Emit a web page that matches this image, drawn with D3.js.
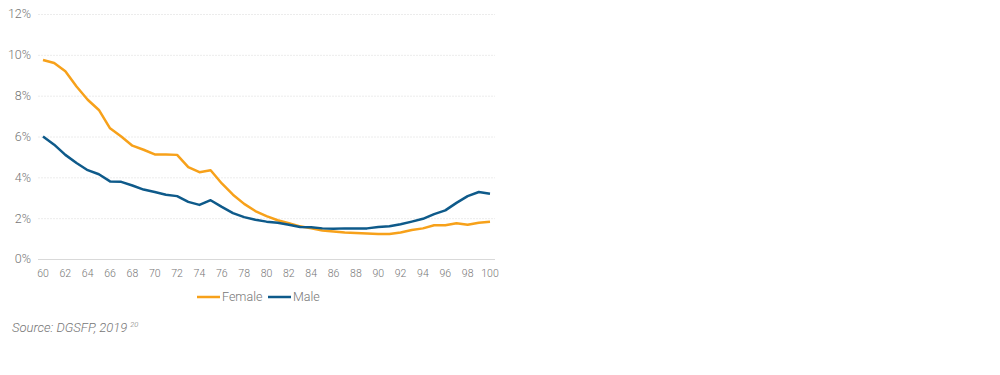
<!DOCTYPE html>
<html lang="en">
<head>
    <meta charset="UTF-8">
    <title>Female / Male</title>
    <script src="https://d3js.org/d3.v7.min.js"></script>
    <style>
        body { margin: 0; background: #fff; }
        svg text { font-family: Roboto, "Noto Sans", sans-serif; font-weight: 300; fill: #767676; }
    </style>
</head>
<body>
    <svg width="1000" height="375"></svg>
    <script>
        const ages = d3.range(60, 101);
        const female = [9.75, 9.6, 9.2, 8.45, 7.8, 7.3, 6.4, 6.0, 5.55, 5.35, 5.12,
            5.12, 5.1, 4.5, 4.25, 4.35, 3.7, 3.15, 2.7, 2.35, 2.1,
            1.9, 1.75, 1.6, 1.5, 1.4, 1.35, 1.3, 1.27, 1.25, 1.23,
            1.23, 1.3, 1.42, 1.5, 1.65, 1.65, 1.75, 1.68, 1.78, 1.83];
        const male = [6.0, 5.6, 5.1, 4.7, 4.35, 4.15, 3.8, 3.78, 3.6, 3.4, 3.28,
            3.15, 3.08, 2.8, 2.65, 2.88, 2.55, 2.25, 2.05, 1.92, 1.83,
            1.78, 1.68, 1.57, 1.55, 1.5, 1.48, 1.5, 1.5, 1.5, 1.57,
            1.6, 1.7, 1.83, 1.97, 2.2, 2.38, 2.75, 3.08, 3.28, 3.2];
        const yTicks = [0, 2, 4, 6, 8, 10, 12];
        const series = [
            {name: 'Female', values: female, color: '#f7a11a'},
            {name: 'Male', values: male, color: '#0e5a8a'}
        ];

        const margin = {top: 14, left: 38, right: 505, bottom: 116};
        const width = 1000, height = 375;

        const x = d3.scalePoint()
            .domain(ages)
            .range([43, 490]);

        const y = d3.scaleLinear()
            .domain([0, 12])
            .range([height - margin.bottom, margin.top]);

        const svg = d3.select('svg');

        // grid
        svg.append('g')
            .selectAll('line').data(yTicks.filter(d => d > 0)).enter().append('line')
            .attr('x1', margin.left).attr('x2', width - margin.right)
            .attr('y1', d => y(d) + 0.5).attr('y2', d => y(d) + 0.5)
            .attr('stroke', '#ececec')
            .attr('stroke-dasharray', '2,1');

        // y labels
        svg.append('g')
            .selectAll('text').data(yTicks).enter().append('text')
            .attr('x', 31)
            .attr('y', d => y(d))
            .attr('dy', '0.35em')
            .attr('text-anchor', 'end')
            .attr('font-size', 12.5)
            .text(d => d + '%');

        // x axis
        svg.append('line')
            .attr('x1', margin.left).attr('x2', width - margin.right)
            .attr('y1', y(0) + 0.5).attr('y2', y(0) + 0.5)
            .attr('stroke', '#d9d9d9');

        svg.append('g')
            .selectAll('text').data(ages.filter(d => d % 2 === 0)).enter().append('text')
            .attr('x', d => x(d))
            .attr('y', y(0) + 18)
            .attr('text-anchor', 'middle')
            .attr('font-size', 10.5)
            .text(d => d);

        const line = d3.line()
            .x((d, i) => x(ages[i]))
            .y(d => y(d));

        svg.append('g')
            .selectAll('path').data(series).enter().append('path')
            .attr('d', d => line(d.values))
            .attr('fill', 'none')
            .attr('stroke', d => d.color)
            .attr('stroke-width', 2.5)
            .attr('stroke-linejoin', 'round');

        // legend
        const legend = svg.append('g').attr('transform', 'translate(197, 297)');
        const items = legend.selectAll('g').data(series).enter().append('g')
            .attr('transform', (d, i) => `translate(${i * 71}, 0)`);
        items.append('line')
            .attr('x1', 0).attr('x2', 23)
            .attr('stroke', d => d.color)
            .attr('stroke-width', 2.5);
        items.append('text')
            .attr('x', 25)
            .attr('dy', '0.35em')
            .attr('font-size', 12.5)
            .text(d => d.name);

        const src = svg.append('text')
            .attr('x', 12)
            .attr('y', 332)
            .attr('font-size', 13)
            .attr('font-style', 'italic');
        src.append('tspan').text('Source: DGSFP, 2019');
        src.append('tspan').attr('dy', -5).attr('dx', 3).attr('font-size', 7.5).text('20');
    </script>
</body>
</html>
